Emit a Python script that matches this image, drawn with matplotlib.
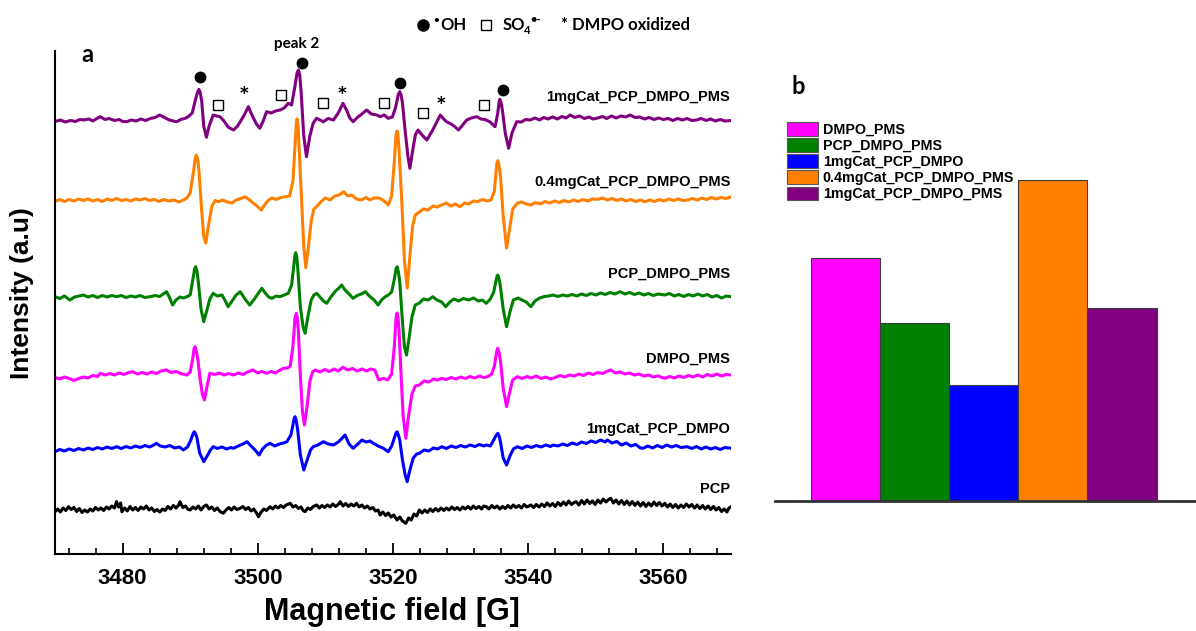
import numpy as np
import matplotlib
matplotlib.use("Agg")
import matplotlib.pyplot as plt
from matplotlib.patches import Patch
from matplotlib.ticker import MultipleLocator

# ---------------- data (panel a: EPR spectra, baseline-relative intensity, a.u.) ----------------
purple = [(3470.0,-0.5),(3470.8,1.0),(3471.5,-1.0),(3472.3,0.5),(3473.0,-0.5),(3473.7,1.5),(3474.2,1.0),(3475.0,2.0),
 (3475.6,0.0),(3476.2,2.5),(3476.7,4.3),(3477.4,1.5),(3478.0,2.5),(3478.8,0.5),(3479.5,1.5),(3480.0,-0.5),(3480.6,-0.7),
 (3481.3,1.0),(3482.0,0.0),(3482.7,2.0),(3483.4,0.5),(3484.1,2.5),(3484.8,3.5),(3485.5,6.0),(3486.2,3.5),(3486.9,1.0),
 (3487.5,0.0),(3488.0,-0.7),(3488.6,1.5),(3489.2,2.5),(3489.7,4.3),(3490.3,8.0),(3490.8,22.0),(3491.1,29.0),(3491.3,31.7),
 (3491.5,28.0),(3491.7,20.0),(3492.0,-5.0),(3492.4,-16.3),(3492.8,-5.0),(3493.4,6.0),(3493.9,5.0),(3494.4,4.3),(3495.0,0.0),
 (3495.6,-6.0),(3496.4,-9.0),(3497.0,-5.0),(3497.4,-0.7),(3498.0,6.0),(3498.6,14.3),(3499.2,5.0),(3499.8,-3.0),(3500.3,-7.3),
 (3500.8,0.0),(3501.3,9.3),(3502.0,8.0),(3502.6,10.0),(3503.3,11.0),(3503.9,13.0),(3504.5,17.7),(3505.0,16.0),(3505.5,35.0),
 (3505.8,48.0),(3506.0,51.0),(3506.2,46.0),(3506.4,30.0),(3506.8,-15.0),(3507.2,-35.7),(3507.7,-15.0),(3508.2,-2.0),
 (3508.7,2.7),(3509.2,1.0),(3509.7,-0.7),(3510.4,2.5),(3511.2,1.0),(3511.9,8.0),(3512.6,17.7),(3513.2,10.0),(3513.6,3.0),
 (3514.1,-0.7),(3514.8,4.0),(3515.4,7.0),(3516.1,11.0),(3516.8,7.0),(3517.6,6.0),(3518.1,4.3),(3518.7,6.0),(3519.3,2.7),
 (3519.9,4.0),(3520.4,14.0),(3520.8,27.0),(3521.0,29.3),(3521.2,26.0),(3521.4,18.0),(3521.8,-10.0),(3522.2,-35.0),
 (3522.5,-47.3),(3522.9,-30.0),(3523.3,-14.0),(3523.7,-9.0),(3524.3,-14.0),(3525.0,-19.0),(3525.8,-10.0),(3526.4,-2.0),
 (3527.0,6.0),(3527.5,2.0),(3527.9,-0.7),(3528.6,-3.0),(3529.2,-6.0),(3529.7,-9.0),(3530.3,-4.0),(3530.9,1.0),(3531.6,3.0),
 (3532.4,4.3),(3533.0,2.0),(3533.6,1.5),(3534.3,-0.7),(3535.1,-5.7),(3535.5,8.0),(3535.7,19.0),(3535.8,21.7),(3536.0,18.0),
 (3536.2,10.0),(3536.6,-12.0),(3537.1,-27.3),(3537.6,-12.0),(3538.3,-0.7),(3539.0,-1.0),(3539.6,1.5),(3540.3,1.0),
 (3541.0,3.0),(3541.7,1.0),(3542.3,3.5),(3542.9,2.0),(3543.6,4.0),(3544.3,2.0),(3545.0,4.5),(3545.6,3.0),(3546.2,6.0),
 (3546.9,3.5),(3547.6,5.0),(3548.3,2.5),(3549.0,4.0),(3549.6,2.0),(3550.3,3.0),(3551.0,4.5),(3551.6,2.5),(3552.3,5.0),
 (3553.0,3.0),(3553.7,5.0),(3554.4,4.0),(3555.1,6.0),(3555.8,3.5),(3556.5,4.0),(3557.2,2.0),(3557.9,3.5),(3558.6,1.5),
 (3559.3,3.0),(3560.0,1.5),(3560.7,2.5),(3561.4,0.5),(3562.1,2.5),(3562.8,1.0),(3563.5,2.5),(3564.2,0.5),(3564.9,1.0),
 (3565.6,2.5),(3566.3,0.5),(3567.0,2.0),(3567.7,0.0),(3568.4,1.5),(3569.1,0.0),(3570.0,0.5)]

orange = [(3470.0,-0.5),(3470.7,1.5),(3471.4,-0.5),(3472.1,1.5),(3472.8,0.0),(3473.5,2.0),(3474.2,0.5),(3474.9,2.0),
 (3475.6,0.0),(3476.3,1.5),(3477.0,-0.5),(3477.7,2.0),(3478.4,0.5),(3479.1,2.5),(3479.8,0.5),(3480.5,1.5),(3481.2,0.0),
 (3481.9,2.0),(3482.6,1.0),(3483.3,2.5),(3484.0,0.5),(3484.7,1.5),(3485.4,-0.5),(3486.1,1.5),(3486.8,0.0),(3487.6,1.0),
 (3488.3,-1.0),(3489.0,1.0),(3489.5,3.0),(3490.0,8.0),(3490.5,30.0),(3490.75,43.0),(3490.9,46.0),(3491.1,42.0),(3491.3,30.0),
 (3491.7,-10.0),(3492.0,-35.0),(3492.3,-42.0),(3492.7,-25.0),(3493.2,-5.0),(3493.7,0.5),(3494.2,-0.7),(3494.8,1.0),
 (3495.5,-1.0),(3496.2,-2.0),(3496.8,1.0),(3497.5,2.5),(3498.1,4.3),(3498.7,1.5),(3499.3,-2.0),(3499.9,-5.0),(3500.5,-9.0),
 (3501.0,-4.0),(3501.5,0.5),(3502.1,3.0),(3502.7,1.5),(3503.4,3.5),(3504.1,4.3),(3504.7,5.0),(3505.2,20.0),(3505.5,55.0),
 (3505.7,78.0),(3505.8,82.0),(3505.95,76.0),(3506.1,55.0),(3506.5,0.0),(3506.8,-45.0),(3507.1,-66.7),(3507.5,-45.0),
 (3507.9,-20.0),(3508.3,-8.0),(3508.7,-5.7),(3509.3,-1.0),(3510.0,3.0),(3510.7,1.0),(3511.4,5.0),(3512.0,6.0),(3512.7,9.3),
 (3513.3,5.0),(3513.9,6.0),(3514.6,2.0),(3515.3,1.0),(3516.0,3.5),(3516.6,1.0),(3517.2,3.0),(3517.9,3.0),(3518.5,1.0),
 (3519.0,-2.0),(3519.3,-4.0),(3519.8,5.0),(3520.2,40.0),(3520.45,66.0),(3520.6,70.0),(3520.75,65.0),(3520.9,50.0),
 (3521.3,0.0),(3521.7,-60.0),(3522.1,-87.0),(3522.5,-55.0),(3522.9,-25.0),(3523.3,-14.0),(3523.9,-11.0),(3524.5,-8.0),
 (3525.2,-9.0),(3525.9,-5.0),(3526.5,-6.0),(3527.2,-4.0),(3527.9,-2.0),(3528.5,-5.0),(3529.2,-3.0),(3529.9,-5.7),
 (3530.6,-2.0),(3531.2,-3.0),(3531.9,0.0),(3532.5,-0.7),(3533.2,1.5),(3533.9,0.0),(3534.5,1.0),(3535.0,10.0),(3535.35,37.0),
 (3535.5,40.3),(3535.7,35.0),(3535.9,25.0),(3536.3,-15.0),(3536.8,-47.0),(3537.2,-30.0),(3537.7,-8.0),(3538.4,-2.3),
 (3539.0,-1.0),(3539.7,-3.0),(3540.4,-4.0),(3541.1,-1.5),(3541.8,-3.0),(3542.5,-0.5),(3543.2,-2.0),(3543.9,0.0),
 (3544.6,-1.5),(3545.3,0.5),(3546.0,-1.0),(3546.7,1.0),(3547.4,-0.5),(3548.1,1.5),(3548.8,0.0),(3549.5,2.0),(3550.3,1.7),
 (3551.0,3.0),(3551.7,1.0),(3552.4,2.5),(3553.1,0.5),(3553.8,2.0),(3554.5,0.0),(3555.2,1.5),(3555.9,-0.5),(3556.6,1.0),
 (3557.3,-0.7),(3558.0,1.0),(3558.7,-0.5),(3559.4,1.5),(3560.1,0.0),(3560.8,2.0),(3561.5,0.5),(3562.2,2.0),(3562.9,0.5),
 (3563.6,1.0),(3564.3,2.5),(3565.0,1.0),(3565.7,3.0),(3566.4,1.5),(3567.1,3.5),(3567.8,2.0),(3568.5,3.5),(3569.2,2.5),
 (3570.0,4.0)]

green = [(3470.0,0.3),(3470.7,-1.5),(3471.4,1.0),(3472.2,-3.0),(3472.9,0.0),(3473.6,1.0),(3474.2,2.0),(3474.9,0.0),
 (3475.6,1.5),(3476.3,-0.5),(3477.0,1.5),(3477.7,0.0),(3478.4,1.5),(3479.1,0.3),(3479.8,1.5),(3480.5,-0.5),(3481.2,1.0),
 (3481.9,0.0),(3482.6,1.5),(3483.3,-0.5),(3484.1,0.3),(3484.8,1.5),(3485.5,0.5),(3486.0,3.0),(3486.5,5.3),(3486.9,0.0),
 (3487.4,-8.0),(3487.9,-3.0),(3488.5,0.0),(3489.0,-1.0),(3489.5,0.3),(3490.0,2.0),(3490.4,18.0),(3490.65,28.0),(3490.8,30.3),
 (3491.0,26.0),(3491.2,15.0),(3491.6,-12.0),(3492.0,-24.7),(3492.4,-15.0),(3492.9,-2.0),(3493.4,3.7),(3494.0,1.0),
 (3494.7,2.0),(3495.2,-4.0),(3495.6,-9.7),(3496.1,-5.0),(3496.8,2.0),(3497.4,5.3),(3498.1,-2.0),(3498.8,-8.0),(3499.5,-2.0),
 (3500.1,4.0),(3500.6,8.7),(3501.1,4.0),(3501.6,0.0),(3502.1,-1.3),(3502.7,1.0),(3503.3,0.3),(3503.9,2.0),(3504.5,3.7),
 (3505.0,12.0),(3505.3,30.0),(3505.5,42.0),(3505.6,44.3),(3505.75,41.0),(3505.9,30.0),(3506.3,-10.0),(3506.7,-30.0),
 (3507.0,-36.3),(3507.4,-20.0),(3507.9,-3.0),(3508.3,2.0),(3508.7,3.7),(3509.2,0.0),(3509.7,-4.0),(3510.2,-6.3),
 (3510.8,0.0),(3511.5,6.0),(3512.0,9.0),(3512.4,12.0),(3512.9,7.0),(3513.5,3.0),(3514.1,-1.3),(3514.7,1.5),(3515.3,3.0),
 (3515.9,5.3),(3516.5,1.0),(3517.2,-3.0),(3517.8,-8.0),(3518.3,-3.0),(3518.8,0.0),(3519.3,2.0),(3519.8,5.0),(3520.2,18.0),
 (3520.45,28.0),(3520.6,30.3),(3520.8,25.0),(3521.0,15.0),(3521.4,-25.0),(3521.7,-50.0),(3522.0,-58.0),(3522.4,-40.0),
 (3522.8,-20.0),(3523.3,-8.0),(3523.9,-6.0),(3524.5,-2.0),(3525.2,-3.0),(3525.9,0.3),(3526.5,-3.0),(3527.2,-5.0),
 (3527.8,-9.7),(3528.4,-5.0),(3529.0,-2.0),(3529.7,-4.0),(3530.4,-1.5),(3531.2,-3.0),(3531.9,-1.0),(3532.6,-4.0),
 (3533.2,-3.0),(3533.8,-6.3),(3534.4,-2.0),(3534.9,5.0),(3535.2,15.0),(3535.4,21.0),(3535.5,22.0),(3535.7,18.0),
 (3535.9,10.0),(3536.3,-12.0),(3536.8,-29.7),(3537.3,-15.0),(3537.8,-3.0),(3538.5,-1.0),(3539.1,-3.0),(3539.7,-5.0),
 (3540.4,-9.7),(3541.0,-4.0),(3541.7,-1.0),(3542.4,0.5),(3543.0,1.0),(3543.7,2.0),(3544.4,0.5),(3545.1,2.0),(3545.8,1.0),
 (3546.5,2.5),(3547.2,1.0),(3547.9,3.0),(3548.6,1.5),(3549.3,3.5),(3550.0,2.0),(3550.7,4.0),(3551.4,2.5),(3552.1,4.5),
 (3552.8,3.0),(3553.6,5.3),(3554.3,3.0),(3555.0,4.5),(3555.7,2.5),(3556.4,4.0),(3557.1,2.0),(3557.8,3.5),(3558.5,1.5),
 (3559.2,3.0),(3560.2,2.0),(3560.9,3.5),(3561.6,1.0),(3562.3,2.5),(3563.0,0.5),(3563.7,2.5),(3564.4,1.0),(3565.1,3.0),
 (3565.8,1.0),(3566.5,2.5),(3567.2,0.0),(3567.9,1.5),(3568.6,-1.0),(3569.3,1.0),(3570.0,0.3)]

magenta = [(3470.0,-1.5),(3470.7,-3.0),(3471.4,-1.0),(3472.1,-2.5),(3472.8,-4.5),(3473.5,-2.5),(3474.2,-1.0),(3474.9,-2.0),
 (3475.6,0.5),(3476.3,-0.5),(3476.7,2.7),(3477.4,1.0),(3478.1,2.5),(3478.8,1.0),(3479.5,3.0),(3480.2,1.5),(3480.9,3.5),
 (3481.5,4.3),(3482.2,2.0),(3482.9,3.5),(3483.6,2.0),(3484.3,4.0),(3485.0,2.5),(3485.7,5.0),(3486.5,6.0),(3487.2,3.5),
 (3487.9,4.5),(3488.6,2.5),(3489.5,1.0),(3490.0,4.0),(3490.4,18.0),(3490.55,27.0),(3490.7,29.3),(3490.9,25.0),(3491.1,18.0),
 (3491.5,-5.0),(3491.8,-18.0),(3492.1,-24.0),(3492.5,-10.0),(3492.9,2.7),(3493.6,1.5),(3494.3,3.0),(3495.0,1.0),
 (3495.7,2.5),(3496.4,1.0),(3497.1,3.0),(3497.8,1.5),(3498.5,4.0),(3499.3,6.0),(3500.0,3.0),(3500.6,4.5),(3501.3,2.7),
 (3502.0,4.5),(3502.6,3.0),(3503.2,5.5),(3503.8,7.7),(3504.4,8.0),(3504.8,10.0),(3505.2,30.0),(3505.5,58.0),(3505.7,62.7),
 (3505.85,58.0),(3506.0,45.0),(3506.3,0.0),(3506.6,-35.0),(3506.9,-49.0),(3507.3,-30.0),(3507.7,-5.0),(3508.1,4.0),
 (3508.5,6.0),(3509.2,4.0),(3509.9,6.5),(3510.6,4.5),(3511.3,7.0),(3511.9,5.0),(3512.6,8.7),(3513.3,6.0),(3514.0,7.5),
 (3514.7,5.0),(3515.4,7.0),(3516.1,5.0),(3516.7,7.0),(3517.3,6.0),(3517.9,-4.0),(3518.6,-2.3),(3519.2,-4.0),(3519.8,2.0),
 (3520.2,30.0),(3520.45,58.0),(3520.6,63.0),(3520.75,58.0),(3520.9,45.0),(3521.2,0.0),(3521.5,-40.0),(3521.9,-62.3),
 (3522.3,-40.0),(3522.8,-18.0),(3523.3,-10.0),(3523.9,-9.0),(3524.6,-5.0),(3525.3,-6.0),(3526.0,-3.0),(3526.6,-4.0),
 (3527.2,-2.3),(3527.9,-3.5),(3528.6,-1.5),(3529.3,-3.0),(3530.0,-1.0),(3530.7,-2.5),(3531.4,-0.5),(3532.1,-2.0),
 (3532.8,0.0),(3533.4,-1.5),(3534.0,-0.7),(3534.6,2.0),(3535.0,10.0),(3535.35,25.0),(3535.5,27.7),(3535.7,23.0),
 (3535.9,15.0),(3536.3,-12.0),(3536.8,-30.7),(3537.2,-18.0),(3537.7,-4.0),(3538.4,-0.7),(3539.1,-2.5),(3539.8,-0.5),
 (3540.5,-2.0),(3541.2,0.0),(3541.9,-2.5),(3542.6,-1.0),(3543.3,-3.0),(3544.0,-1.5),(3544.7,0.5),(3545.4,-1.0),(3546.1,1.0),
 (3546.8,0.0),(3547.5,2.0),(3548.2,0.5),(3548.9,3.0),(3549.6,1.5),(3550.3,3.5),(3551.0,2.5),(3551.6,4.5),(3552.2,6.0),
 (3552.9,3.0),(3553.6,4.0),(3554.3,2.0),(3555.0,3.0),(3555.7,1.0),(3556.4,2.0),(3557.1,0.0),(3557.8,1.0),(3558.5,-1.0),
 (3559.2,0.0),(3560.2,-2.3),(3560.9,-0.5),(3561.6,-2.0),(3562.3,0.0),(3563.0,-1.5),(3563.7,0.5),(3564.4,-1.0),(3565.1,1.0),
 (3565.8,-1.0),(3566.5,1.5),(3567.2,0.0),(3567.9,2.0),(3568.6,0.0),(3569.3,1.5),(3570.0,1.0)]

blue = [(3470.0,-1.7),(3470.7,0.5),(3471.4,-1.0),(3472.1,1.0),(3472.8,-0.5),(3473.5,1.5),(3474.2,0.0),(3474.9,2.0),
 (3475.6,0.5),(3476.3,2.5),(3477.0,1.0),(3477.7,3.0),(3478.4,1.5),(3479.1,3.3),(3479.8,1.5),(3480.5,3.5),(3481.2,2.0),
 (3481.9,4.0),(3482.6,2.5),(3483.3,4.5),(3484.0,3.0),(3484.6,5.0),(3485.0,6.7),(3485.6,4.0),(3486.3,3.0),(3487.0,4.5),
 (3487.7,2.0),(3488.4,3.0),(3489.0,0.0),(3489.6,3.0),(3490.1,10.0),(3490.4,16.0),(3490.6,18.3),(3490.8,16.0),(3491.0,12.0),
 (3491.4,-3.0),(3492.0,-11.7),(3492.5,-6.0),(3493.0,0.0),(3493.4,3.3),(3494.0,1.5),(3494.7,3.0),(3495.4,1.0),(3496.0,2.5),
 (3496.4,1.7),(3497.1,4.0),(3497.8,6.0),(3498.4,8.3),(3499.0,4.0),(3499.6,0.0),(3500.2,-5.0),(3500.7,1.0),(3501.3,5.0),
 (3501.8,6.7),(3502.5,4.0),(3503.2,6.0),(3503.8,7.0),(3504.3,8.3),(3504.9,15.0),(3505.2,25.0),(3505.4,32.0),(3505.5,33.3),
 (3505.7,29.0),(3505.9,20.0),(3506.3,-5.0),(3506.8,-20.0),(3507.3,-10.0),(3507.8,0.0),(3508.2,3.3),(3508.9,5.0),
 (3509.7,8.3),(3510.4,6.0),(3511.2,5.0),(3511.9,8.0),(3512.5,12.0),(3512.9,15.0),(3513.5,6.0),(3514.1,1.7),(3514.8,6.0),
 (3515.4,10.0),(3516.0,8.0),(3516.6,9.0),(3517.1,6.7),(3517.8,4.0),(3518.5,2.0),(3519.3,-1.7),(3519.8,4.0),(3520.2,12.0),
 (3520.45,17.0),(3520.6,18.3),(3520.8,15.0),(3521.0,10.0),(3521.4,-10.0),(3521.8,-25.0),(3522.1,-31.7),(3522.5,-20.0),
 (3523.0,-8.0),(3523.5,-4.0),(3523.9,-3.3),(3524.6,0.0),(3525.3,-1.0),(3526.0,2.0),(3526.6,1.0),(3527.2,3.3),(3527.9,1.5),
 (3528.6,4.0),(3529.3,2.5),(3530.0,4.5),(3530.7,3.0),(3531.4,5.0),(3532.1,3.5),(3532.8,5.5),(3533.4,4.0),(3533.8,5.0),
 (3534.4,4.0),(3534.9,10.0),(3535.2,14.0),(3535.5,16.7),(3535.7,14.0),(3535.9,8.0),(3536.3,-8.0),(3536.8,-15.0),
 (3537.3,-6.0),(3537.8,1.0),(3538.4,3.3),(3539.1,1.5),(3539.8,4.0),(3540.5,2.5),(3541.2,4.5),(3541.9,3.0),(3542.6,5.0),
 (3543.3,3.5),(3543.7,5.0),(3544.4,4.0),(3545.1,6.0),(3545.8,4.5),(3546.5,7.0),(3547.2,5.5),(3547.9,8.0),(3548.6,6.5),
 (3549.3,9.0),(3550.0,7.5),(3550.7,10.0),(3551.4,8.0),(3551.7,10.0),(3552.4,7.0),(3553.1,8.5),(3553.8,5.0),(3554.5,7.0),
 (3555.2,4.0),(3555.9,5.5),(3556.6,2.0),(3557.0,1.7),(3557.7,4.0),(3558.4,2.0),(3559.1,4.5),(3559.8,2.5),(3560.5,5.0),
 (3561.2,3.0),(3561.9,4.5),(3562.6,2.5),(3563.5,3.3),(3564.2,1.5),(3564.9,3.5),(3565.6,1.0),(3566.3,3.0),(3567.0,1.0),
 (3567.7,2.5),(3568.4,0.5),(3569.1,2.5),(3570.0,1.7)]

black = [(3470.0,-2.7),(3470.4,0.0),(3470.8,-3.0),(3471.2,1.0),(3471.6,-1.5),(3472.0,2.3),(3472.4,-0.5),(3472.8,1.5),
 (3473.2,-2.5),(3473.6,0.5),(3474.0,-3.5),(3474.4,-1.0),(3474.8,-3.0),(3475.2,0.0),(3475.6,-2.0),(3476.0,1.5),(3476.4,-1.0),
 (3476.8,1.0),(3477.2,-1.5),(3477.6,2.0),(3478.0,0.0),(3478.4,3.0),(3478.8,1.0),(3479.1,7.3),(3479.4,2.0),(3479.7,6.0),
 (3479.9,-2.7),(3480.3,1.0),(3480.7,-2.0),(3481.1,2.5),(3481.5,-1.0),(3481.9,1.5),(3482.3,-1.5),(3482.7,2.0),(3483.1,0.0),
 (3483.5,3.0),(3483.9,-1.0),(3484.3,1.0),(3484.7,-2.5),(3485.1,-0.5),(3485.5,-3.0),(3485.9,0.0),(3486.3,-1.5),(3486.7,2.5),
 (3487.1,0.0),(3487.5,3.5),(3487.9,1.0),(3488.3,4.0),(3488.5,7.3),(3488.9,1.5),(3489.3,3.0),(3489.7,-0.5),(3490.0,-1.0),
 (3490.4,2.0),(3490.8,0.0),(3491.2,3.0),(3491.6,-1.0),(3492.0,2.5),(3492.4,4.0),(3492.8,0.0),(3493.2,2.0),(3493.6,-1.5),
 (3494.0,1.0),(3494.4,-2.5),(3494.9,-4.3),(3495.3,-1.0),(3495.7,1.5),(3496.1,-1.0),(3496.5,2.0),(3496.9,-0.5),(3497.4,0.7),
 (3497.8,2.5),(3498.2,-0.5),(3498.6,1.5),(3499.0,-2.0),(3499.4,0.0),(3499.8,-4.0),(3500.1,-7.7),(3500.5,-3.0),(3500.9,0.0),
 (3501.3,-1.5),(3501.8,2.3),(3502.2,0.0),(3502.6,3.0),(3503.0,1.0),(3503.4,3.5),(3503.8,1.5),(3504.2,4.0),(3504.8,5.7),
 (3505.2,2.0),(3505.6,3.5),(3506.0,0.5),(3506.4,2.0),(3506.7,-1.5),(3507.0,-2.7),(3507.4,1.0),(3507.8,-0.5),(3508.2,2.5),
 (3508.7,4.0),(3509.1,1.0),(3509.5,3.5),(3509.9,1.5),(3510.3,4.0),(3510.7,2.0),(3511.1,5.0),(3511.5,2.5),(3511.9,4.5),
 (3512.2,7.3),(3512.6,3.0),(3513.0,5.5),(3513.4,2.5),(3513.8,5.0),(3514.2,3.0),(3514.6,5.7),(3515.0,2.0),(3515.4,4.0),
 (3515.8,1.0),(3516.2,3.0),(3516.6,0.0),(3517.0,1.5),(3517.4,-2.0),(3517.8,-1.0),(3518.1,-6.0),(3518.5,-3.0),(3518.9,-6.5),
 (3519.3,-4.0),(3519.7,-8.0),(3520.1,-6.0),(3520.6,-11.0),(3521.0,-8.0),(3521.4,-12.0),(3521.9,-14.3),(3522.3,-9.0),
 (3522.7,-11.0),(3523.1,-5.0),(3523.5,-7.0),(3523.9,-1.0),(3524.3,-4.0),(3524.7,-1.0),(3525.1,-3.5),(3525.5,0.0),
 (3525.9,-2.5),(3526.3,0.5),(3526.7,-2.0),(3527.1,1.0),(3527.5,-1.5),(3527.9,1.0),(3528.3,-1.0),(3528.7,2.0),(3529.1,-0.5),
 (3529.5,1.5),(3529.9,-1.0),(3530.3,2.0),(3530.7,0.0),(3531.1,2.5),(3531.5,0.0),(3531.9,3.0),(3532.3,0.5),(3532.7,2.5),
 (3533.1,0.0),(3533.4,3.0),(3533.8,2.3),(3534.2,0.0),(3534.6,3.5),(3535.0,1.0),(3535.4,3.0),(3535.8,0.0),(3536.2,2.5),
 (3536.6,0.5),(3537.0,3.5),(3537.4,1.0),(3537.8,4.0),(3538.2,1.5),(3538.6,3.5),(3539.0,1.0),(3539.4,4.5),(3539.8,2.0),
 (3540.4,4.0),(3540.8,1.5),(3541.2,4.5),(3541.6,2.0),(3542.0,5.0),(3542.4,2.5),(3542.8,6.0),(3543.2,3.0),(3543.6,5.5),
 (3544.0,2.5),(3544.4,6.5),(3544.8,3.5),(3545.2,7.0),(3545.6,4.0),(3546.0,8.0),(3546.4,4.5),(3546.8,6.5),(3547.1,7.3),
 (3547.5,4.0),(3547.9,8.5),(3548.3,5.0),(3548.7,9.0),(3549.1,5.5),(3549.5,8.0),(3549.9,4.5),(3550.3,9.0),(3550.7,6.0),
 (3551.1,10.0),(3551.5,7.0),(3551.9,9.5),(3552.2,10.7),(3552.6,6.0),(3553.0,9.0),(3553.4,5.0),(3553.8,8.5),(3554.2,4.5),
 (3554.6,8.0),(3555.0,4.0),(3555.4,7.5),(3555.8,3.5),(3556.2,7.0),(3556.6,3.0),(3557.0,6.5),(3557.4,2.5),(3557.8,6.0),
 (3558.2,3.0),(3558.6,7.0),(3559.0,3.5),(3559.4,6.5),(3559.8,3.0),(3560.2,5.7),(3560.6,2.0),(3561.0,5.0),(3561.4,1.5),
 (3561.8,4.5),(3562.2,1.0),(3562.6,4.0),(3563.0,1.5),(3563.4,5.0),(3563.8,2.0),(3564.2,4.5),(3564.6,1.0),(3565.0,4.0),
 (3565.4,0.5),(3565.8,3.5),(3566.2,0.0),(3566.6,3.0),(3567.0,-0.5),(3567.4,2.5),(3567.8,-1.0),(3568.2,1.5),(3568.6,-2.5),
 (3569.0,0.0),(3569.4,-3.0),(3569.7,1.0),(3570.0,2.3)]

trace_names = ["1mgCat_PCP_DMPO_PMS", "0.4mgCat_PCP_DMPO_PMS", "PCP_DMPO_PMS", "DMPO_PMS", "1mgCat_PCP_DMPO", "PCP"]
trace_data = [purple, orange, green, magenta, blue, black]
trace_offsets = [433, 353, 257, 178, 104, 45]
trace_colors = ["#800080", "#FF8000", "#008000", "#FF00FF", "#0000FF", "#000000"]
label_y = [457, 372, 280, 195, 125, 65]

# radical markers above the top spectrum (field, intensity)
oh_marks = [(3491.4, 477), (3506.5, 491), (3521.1, 471), (3536.3, 464)]
so4_marks = [(3494.1, 449), (3503.5, 459), (3509.7, 451), (3518.7, 451), (3524.5, 441), (3533.4, 449)]
dmpox_marks = [(3497.9, 457), (3512.4, 457), (3527.1, 447)]

# panel b
bar_labels = ["DMPO_PMS", "PCP_DMPO_PMS", "1mgCat_PCP_DMPO", "0.4mgCat_PCP_DMPO_PMS", "1mgCat_PCP_DMPO_PMS"]
bar_values = [243, 178, 116, 321, 193]
bar_colors = ["#FF00FF", "#008000", "#0000FF", "#FF8000", "#800080"]

# ---------------- figure ----------------
W, H = 1196, 631
fig = plt.figure(figsize=(W / 100, H / 100), dpi=100)
BOLD = dict(family=["Liberation Sans", "DejaVu Sans"], weight="bold")
CAL = dict(family=["Lato", "DejaVu Sans"], weight="bold")


def fx(px):
    return px / W


def fy(py):
    return 1 - py / H


ax = fig.add_axes([fx(55), fy(554), fx(731) - fx(55), fy(51) - fy(554)])
for data, off, col in zip(trace_data, trace_offsets, trace_colors):
    arr = np.array(data)
    ax.plot(arr[:, 0], arr[:, 1] + off, color=col, lw=2.2, solid_joinstyle="round")

for name, ly in zip(trace_names, label_y):
    ax.text(3569.9, ly, name, ha="right", va="center", fontsize=10.5, **BOLD)

for xm, ym in oh_marks:
    ax.plot(xm, ym, "o", color="black", ms=7.5, clip_on=False)
for xm, ym in so4_marks:
    ax.plot(xm, ym, "s", mfc="white", mec="black", mew=1.0, ms=7, clip_on=False)
for xm, ym in dmpox_marks:
    ax.text(xm, ym, "*", ha="center", va="center", fontsize=18, **CAL)

ax.text(3505.8, 510, "peak 2", ha="center", va="center", fontsize=11, clip_on=False, **CAL)

ax.set_xlim(3470, 3570)
ax.set_ylim(0, 503)
ax.set_xticks([3480, 3500, 3520, 3540, 3560])
ax.xaxis.set_minor_locator(MultipleLocator(4))
ax.tick_params(axis="x", which="major", direction="in", length=8, width=1.3, pad=10)
ax.tick_params(axis="x", which="minor", direction="in", length=4, width=1.2)
ax.set_yticks([])
for lab in ax.get_xticklabels():
    lab.set_fontsize(16)
    lab.set_fontfamily(["Liberation Sans", "DejaVu Sans"])
    lab.set_fontweight("bold")
ax.spines["top"].set_visible(False)
ax.spines["right"].set_visible(False)
ax.spines["left"].set_linewidth(1.5)
ax.spines["bottom"].set_linewidth(1.5)

fig.text(fx(392), fy(612), "Magnetic field [G]", ha="center", va="center", fontsize=22, **BOLD)
fig.text(fx(22), fy(293), "Intensity (a.u)", ha="center", va="center", rotation=90, fontsize=19, **BOLD)
fig.text(fx(87), fy(55), "a", ha="center", va="center", fontsize=17, **CAL)
fig.text(fx(798), fy(87), "b", ha="center", va="center", fontsize=17, **CAL)

# top legend of radical symbols
fig.lines.append(plt.Line2D([fx(423)], [fy(25)], marker="o", color="black", ms=8, transform=fig.transFigure))
fig.text(fx(436), fy(21), "•", ha="center", va="center", fontsize=7, **CAL)
fig.text(fx(440), fy(25), "OH", ha="left", va="center", fontsize=12, **CAL)
fig.lines.append(plt.Line2D([fx(486)], [fy(25)], marker="s", mfc="white", mec="black", mew=1.0, ms=7,
                            transform=fig.transFigure))
fig.text(fx(503), fy(25), "SO", ha="left", va="center", fontsize=12, **CAL)
fig.text(fx(524), fy(30), "4", ha="left", va="center", fontsize=8, **CAL)
fig.text(fx(530), fy(19), "•-", ha="left", va="center", fontsize=8, **CAL)
fig.text(fx(561), fy(25), "* DMPO oxidized", ha="left", va="center", fontsize=12, **CAL)

# ---------------- panel b ----------------
axb = fig.add_axes([fx(775), fy(500.7), 1 - fx(775), fy(60) - fy(500.7)])
xpos = np.arange(len(bar_values))
axb.bar(xpos, bar_values, width=1.0, color=bar_colors, edgecolor="#3a3a3a", linewidth=0.8)
axb.set_xlim(-1.02, 5.07)
axb.set_ylim(0, 440.7)
axb.set_xticks([])
axb.set_yticks([])
for s in ["top", "right", "left"]:
    axb.spines[s].set_visible(False)
axb.spines["bottom"].set_linewidth(2)
axb.spines["bottom"].set_color("#333333")

handles = [Patch(facecolor=c, edgecolor="#555555", linewidth=0.8) for c in bar_colors]
fig.legend(handles, bar_labels, loc="upper left", bbox_to_anchor=(fx(787), fy(122)),
           frameon=False, handlelength=2.2, handleheight=1.1, labelspacing=0.1,
           handletextpad=0.3, borderpad=0, borderaxespad=0,
           prop=dict(family=["Liberation Sans", "DejaVu Sans"], weight="bold", size=10.3))

fig.savefig("out.png", dpi=100)
